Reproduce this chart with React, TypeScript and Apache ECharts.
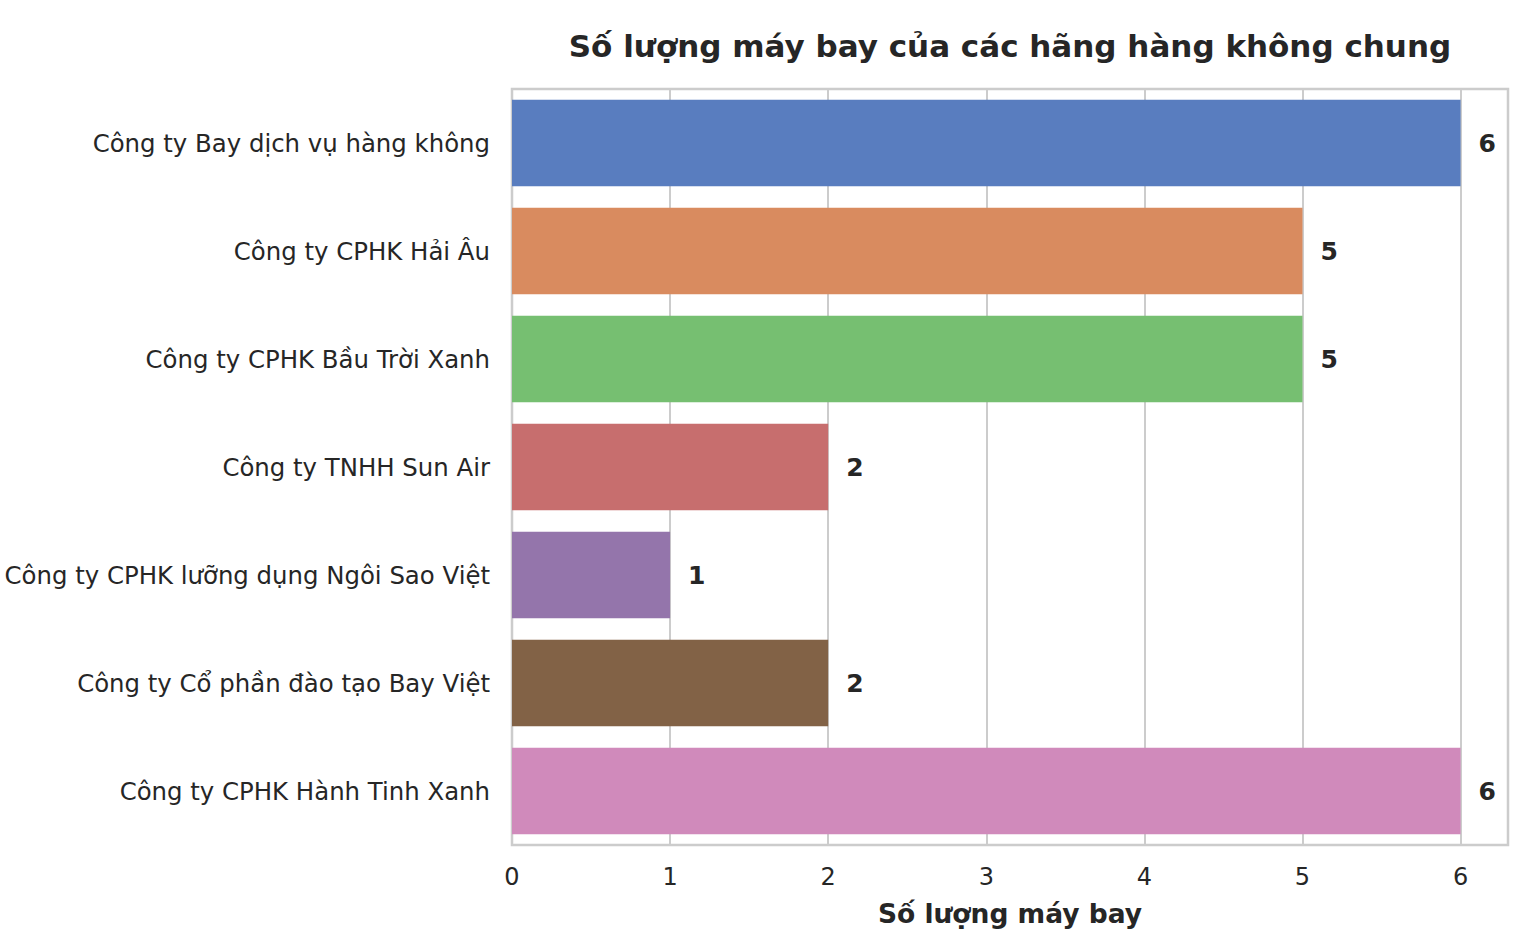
import { useEffect, useRef } from 'react';
import * as echarts from 'echarts';

// airlines (top to bottom) and their aircraft counts
const companies = [
    'Công ty Bay dịch vụ hàng không',
    'Công ty CPHK Hải Âu',
    'Công ty CPHK Bầu Trời Xanh',
    'Công ty TNHH Sun Air',
    'Công ty CPHK lưỡng dụng Ngôi Sao Việt',
    'Công ty Cổ phần đào tạo Bay Việt',
    'Công ty CPHK Hành Tinh Xanh',
];
const aircraftCounts = [6, 5, 5, 2, 1, 2, 6];
// seaborn "muted" palette, desaturated
const barColors = ['#597DBF', '#D98B5F', '#76BF71', '#C76E6E', '#9475AB', '#826246', '#D08ABB'];

const TEXT = '#262626';
const FONT = "'DejaVu Sans', sans-serif";

const App = () => {
    const chartRef = useRef<HTMLDivElement>(null);

    useEffect(() => {
        if (!chartRef.current) return;
        const chart = echarts.init(chartRef.current, undefined, { renderer: 'svg' });

        const option: echarts.EChartsOption = {
            animation: false,
            backgroundColor: '#ffffff',
            textStyle: { fontFamily: FONT, color: TEXT },
            title: {
                text: 'Số lượng máy bay của các hãng hàng không chung',
                left: 1005,
                textAlign: 'center',
                top: 25,
                textStyle: { fontFamily: FONT, fontSize: 31, fontWeight: 'bold', color: TEXT },
            },
            grid: {
                left: 512,
                right: 28,
                top: 89,
                bottom: 107,
                show: true,
                borderColor: '#cccccc',
                borderWidth: 2.5,
                backgroundColor: 'transparent',
            },
            xAxis: {
                type: 'value',
                min: 0,
                max: 6.3,
                interval: 1,
                name: 'Số lượng máy bay',
                nameLocation: 'middle',
                nameGap: 55,
                nameTextStyle: { fontFamily: FONT, fontSize: 26.5, fontWeight: 'bold', color: TEXT },
                axisLine: { show: false },
                axisTick: { show: false },
                axisLabel: {
                    fontFamily: FONT,
                    fontSize: 24,
                    color: TEXT,
                    margin: 20,
                    showMaxLabel: false,
                },
                splitLine: { show: true, lineStyle: { color: '#cccccc', width: 2 } },
            },
            yAxis: {
                type: 'category',
                data: companies,
                inverse: true,
                axisLine: { show: false },
                axisTick: { show: false },
                axisLabel: { fontFamily: FONT, fontSize: 24.4, color: TEXT, margin: 22, padding: [5, 0, 0, 0] },
                splitLine: { show: false },
            },
            series: [
                {
                    type: 'bar',
                    barCategoryGap: '20%',
                    data: aircraftCounts.map((v, i) => ({ value: v, itemStyle: { color: barColors[i] } })),
                    label: {
                        show: true,
                        position: 'right',
                        distance: 18,
                        fontFamily: FONT,
                        fontSize: 25,
                        fontWeight: 'bold',
                        color: TEXT,
                    },
                },
            ],
        };
        chart.setOption(option);

        return () => {
            chart.dispose();
        };
    }, []);

    return <div ref={chartRef} style={{ position: 'absolute', left: 0, top: 0, width: 1536, height: 952 }} />;
};

export default App;
